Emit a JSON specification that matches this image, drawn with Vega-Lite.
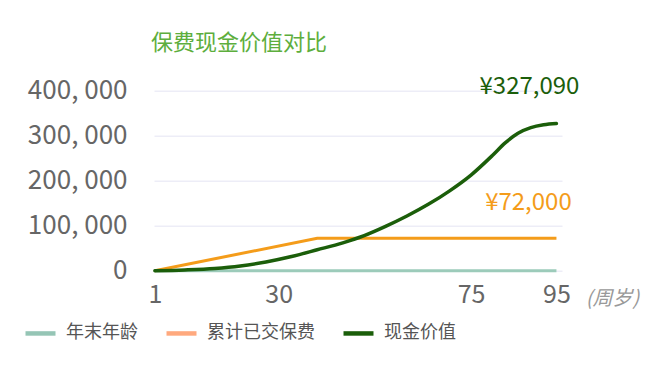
{
  "$schema": "https://vega.github.io/schema/vega-lite/v6.json",
  "width": 408,
  "height": 180,
  "autosize": {"type": "none"},
  "padding": {"left": 154, "top": 90.7, "right": 83, "bottom": 113.3},
  "background": "white",
  "config": {
    "view": {"stroke": null},
    "font": "Noto Sans CJK SC",
    "locale": {"number": {"decimal": ".", "thousands": ",", "grouping": [3], "currency": ["¥", ""]}}
  },
  "title": {
    "text": "保费现金价值对比",
    "color": "#5DAE3D",
    "fontSize": 22,
    "fontWeight": "normal",
    "font": "Noto Sans CJK SC",
    "anchor": "middle",
    "frame": "group",
    "dx": -119,
    "offset": 20
  },
  "data": {
    "values": [
      {"series": "年末年龄", "age": 1, "value": 1},
      {"series": "年末年龄", "age": 30, "value": 30},
      {"series": "年末年龄", "age": 75, "value": 75},
      {"series": "年末年龄", "age": 95, "value": 95},
      {"series": "累计已交保费", "age": 1, "value": 0},
      {"series": "累计已交保费", "age": 39, "value": 72000},
      {"series": "累计已交保费", "age": 95, "value": 72000},
      {"series": "现金价值", "age": 1, "value": 0},
      {"series": "现金价值", "age": 8, "value": 1800},
      {"series": "现金价值", "age": 15, "value": 5000},
      {"series": "现金价值", "age": 21, "value": 10500},
      {"series": "现金价值", "age": 27, "value": 19500},
      {"series": "现金价值", "age": 33, "value": 31500},
      {"series": "现金价值", "age": 39, "value": 46500},
      {"series": "现金价值", "age": 45, "value": 62000},
      {"series": "现金价值", "age": 50, "value": 78000},
      {"series": "现金价值", "age": 55, "value": 98500},
      {"series": "现金价值", "age": 60, "value": 121500},
      {"series": "现金价值", "age": 65, "value": 147500},
      {"series": "现金价值", "age": 70, "value": 177500},
      {"series": "现金价值", "age": 75, "value": 212500},
      {"series": "现金价值", "age": 80, "value": 256000},
      {"series": "现金价值", "age": 83, "value": 284000},
      {"series": "现金价值", "age": 86, "value": 305500},
      {"series": "现金价值", "age": 89, "value": 318000},
      {"series": "现金价值", "age": 92, "value": 324300},
      {"series": "现金价值", "age": 95, "value": 327090}
    ]
  },
  "encoding": {
    "x": {
      "field": "age",
      "type": "quantitative",
      "scale": {"domain": [0.8, 96.3], "nice": false, "zero": false},
      "axis": {
        "values": [1, 30, 75, 95],
        "labelFontSize": 25,
        "labelColor": "#666",
        "labelFont": "Noto Sans CJK SC",
        "labelPadding": 12,
        "labelFlush": false,
        "ticks": false,
        "domain": false,
        "grid": false,
        "title": "(周岁)",
        "titleFont": "Noto Sans CJK SC",
        "titleFontSize": 20,
        "titleFontStyle": "italic",
        "titleFontWeight": "normal",
        "titleColor": "#999",
        "titleX": 458,
        "titleY": 28,
        "titleAlign": "center",
        "titleBaseline": "middle"
      }
    },
    "y": {
      "field": "value",
      "type": "quantitative",
      "scale": {"domain": [0, 400000], "nice": false},
      "axis": {
        "values": [0, 100000, 200000, 300000, 400000],
        "labelExpr": "replace(format(datum.value, ',.0f'), ',', ', ')",
        "labelFontSize": 26,
        "labelColor": "#666",
        "labelFont": "Noto Sans CJK SC",
        "labelPadding": 27,
        "ticks": false,
        "domain": false,
        "gridColor": "#EDEDF7",
        "gridWidth": 1.5,
        "title": null
      }
    }
  },
  "layer": [
    {
      "transform": [{"filter": "datum.age == 1"}],
      "mark": {"type": "line", "strokeWidth": 1},
      "encoding": {
        "color": {
          "field": "series",
          "type": "nominal",
          "scale": {"domain": ["年末年龄", "累计已交保费", "现金价值"], "range": ["#95C5B5", "#FFA97E", "#1B5E0A"]},
          "legend": {
            "orient": "none",
            "legendX": -131,
            "legendY": 225,
            "direction": "horizontal",
            "title": null,
            "symbolType": "stroke",
            "symbolSize": 900,
            "symbolStrokeWidth": 4.5,
            "labelFontSize": 18,
            "labelFont": "Noto Sans CJK SC",
            "labelColor": "#555",
            "labelOffset": 8,
            "columnPadding": 19,
            "padding": 0
          }
        }
      }
    },
    {
      "transform": [{"filter": "datum.series == '年末年龄'"}],
      "mark": {"type": "line", "color": "#9CCBBA", "strokeWidth": 3}
    },
    {
      "transform": [{"filter": "datum.series == '累计已交保费'"}],
      "mark": {"type": "line", "color": "#F49C1A", "strokeWidth": 3}
    },
    {
      "transform": [{"filter": "datum.series == '现金价值'"}],
      "mark": {"type": "line", "color": "#1B5E0A", "strokeWidth": 3.5, "interpolate": "monotone", "strokeCap": "round"}
    },
    {
      "transform": [{"filter": "datum.series == '累计已交保费' && datum.age == 95"}],
      "mark": {"type": "text", "color": "#F49C1A", "fontSize": 24, "font": "Noto Sans CJK SC", "dx": -28, "dy": -35, "align": "center", "baseline": "middle"},
      "encoding": {"text": {"field": "value", "type": "quantitative", "format": "$,.0f"}}
    },
    {
      "transform": [{"filter": "datum.series == '现金价值' && datum.age == 95"}],
      "mark": {"type": "text", "color": "#1B5E0A", "fontSize": 24, "font": "Noto Sans CJK SC", "dx": -27, "dy": -37, "align": "center", "baseline": "middle"},
      "encoding": {"text": {"field": "value", "type": "quantitative", "format": "$,.0f"}}
    }
  ]
}
